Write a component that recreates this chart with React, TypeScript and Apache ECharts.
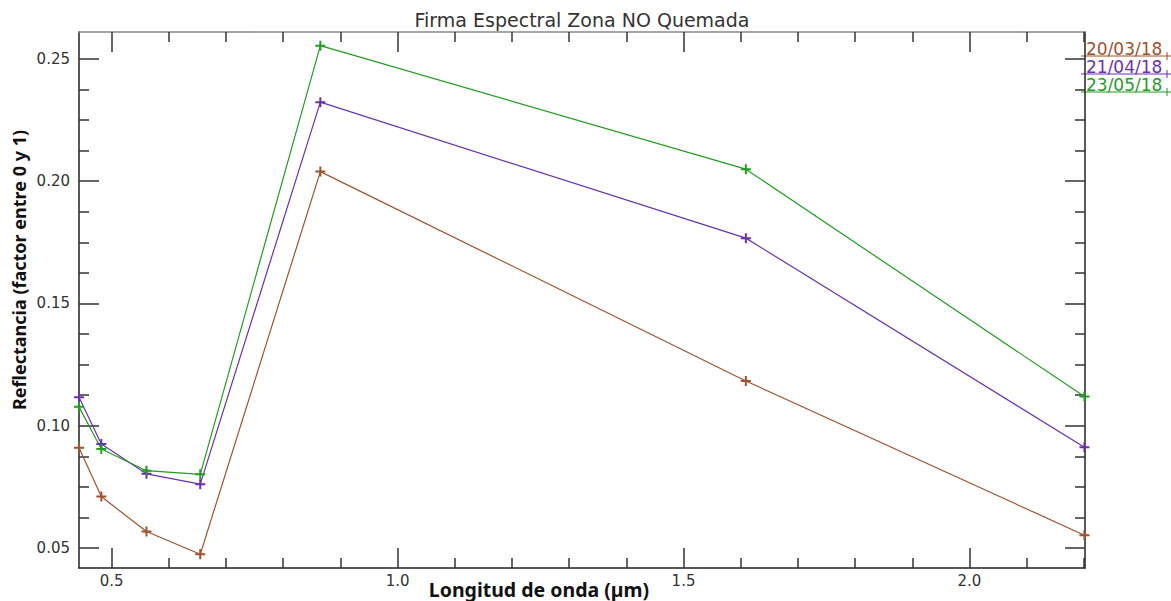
import React, { useEffect, useRef } from "react";
import * as echarts from "echarts";

const wavelengths = [0.443, 0.482, 0.561, 0.655, 0.865, 1.609, 2.201];
const seriesNames = ["20/03/18", "21/04/18", "23/05/18"];
const march = [0.091, 0.071, 0.0567, 0.0474, 0.2039, 0.1183, 0.0552];
const april = [0.1116, 0.0925, 0.0803, 0.0761, 0.2323, 0.1767, 0.0912];
const may = [0.1077, 0.0905, 0.0816, 0.0801, 0.2554, 0.2049, 0.1119];
const seriesValues = [march, april, may];
const colors = ["#a0522d", "#6a30b4", "#1f9e1f"];

const xMajor = [0.5, 1.0, 1.5, 2.0];
const xMinor = [0.6, 0.7, 0.8, 0.9, 1.1, 1.2, 1.3, 1.4, 1.6, 1.7, 1.8, 1.9, 2.1, 2.2];
const yMajor = [0.05, 0.1, 0.15, 0.2, 0.25];
const yMinor = [0.0625, 0.075, 0.0875, 0.1125, 0.125, 0.1375, 0.1625, 0.175, 0.1875, 0.2125, 0.225, 0.2375];

const X_MIN = 0.443;
const X_MAX = 2.202;
const Y_MIN = 0.0418;
const Y_MAX = 0.261;

const TITLE = "Firma Espectral Zona NO Quemada";
const X_NAME = "Longitud de onda (µm)";
const Y_NAME = "Reflectancia (factor entre 0 y 1)";

const PLUS = "path://M0,3.6H3.6V0H5.4V3.6H9V5.4H5.4V9H3.6V5.4H0Z";
const TICK_COLOR = "#333";

function xAxisDef(position: "top" | "bottom", values: number[], len: number, labels: boolean, lineColor: string | null) {
  return {
    type: "value",
    min: X_MIN,
    max: X_MAX,
    position,
    axisLine: lineColor
      ? { show: true, onZero: false, lineStyle: { color: lineColor, width: 1.5 } }
      : { show: false, onZero: false },
    axisTick: { show: true, inside: true, length: len, customValues: values, lineStyle: { color: TICK_COLOR, width: 1.5 } },
    axisLabel: {
      show: labels,
      customValues: values,
      formatter: (v: number) => v.toFixed(1),
      margin: 5,
      color: "#333",
      fontFamily: "DejaVu Sans",
      fontSize: 15,
    },
    splitLine: { show: false },
  };
}

function yAxisDef(position: "left" | "right", values: number[], len: number, labels: boolean, lineColor: string | null) {
  return {
    type: "value",
    min: Y_MIN,
    max: Y_MAX,
    position,
    axisLine: lineColor
      ? { show: true, onZero: false, lineStyle: { color: lineColor, width: 1.5 } }
      : { show: false, onZero: false },
    axisTick: { show: true, inside: true, length: len, customValues: values, lineStyle: { color: TICK_COLOR, width: 1.5 } },
    axisLabel: {
      show: labels,
      customValues: values,
      formatter: (v: number) => v.toFixed(2),
      margin: 9,
      color: "#333",
      fontFamily: "DejaVu Sans",
      fontSize: 15,
    },
    splitLine: { show: false },
  };
}

export default function App() {
  const ref = useRef<HTMLDivElement>(null);

  useEffect(() => {
    if (!ref.current) return;
    const chart = echarts.init(ref.current, null, { renderer: "svg" });

    const legendGraphics: any[] = [];
    const legendLineY = [56, 74, 92];
    seriesNames.forEach((name, i) => {
      const ly = legendLineY[i];
      legendGraphics.push({
        type: "line",
        shape: { x1: 1081, y1: ly, x2: 1171, y2: ly },
        style: { stroke: colors[i], lineWidth: 1 },
      });
      legendGraphics.push({
        type: "line",
        shape: { x1: 1167, y1: ly - 4, x2: 1167, y2: ly + 4 },
        style: { stroke: colors[i], lineWidth: 1 },
      });
      legendGraphics.push({
        type: "text",
        x: 1086,
        y: ly - 7,
        style: {
          text: name,
          fill: colors[i],
          font: "17px 'DejaVu Sans'",
          align: "left",
          verticalAlign: "middle",
        },
      });
    });

    chart.setOption({
      animation: false,
      backgroundColor: "#ffffff",
      grid: { left: 79, right: 86, top: 32, bottom: 33, containLabel: false },
      xAxis: [
        xAxisDef("bottom", xMajor, 20, true, "#222"),
        xAxisDef("bottom", xMinor, 10, false, null),
        xAxisDef("top", xMajor, 20, false, "#888"),
        xAxisDef("top", xMinor, 10, false, null),
      ],
      yAxis: [
        yAxisDef("left", yMajor, 20, true, "#222"),
        yAxisDef("left", yMinor, 10, false, null),
        yAxisDef("right", yMajor, 20, false, "#222"),
        yAxisDef("right", yMinor, 10, false, null),
      ],
      legend: { show: false },
      series: seriesNames.map((name, i) => ({
        name,
        type: "line",
        xAxisIndex: 0,
        yAxisIndex: 0,
        data: wavelengths.map((w, j) => [w, seriesValues[i][j]]),
        symbol: PLUS,
        symbolSize: 10,
        showAllSymbol: true,
        lineStyle: { color: colors[i], width: 1.2 },
        itemStyle: { color: colors[i] },
        emphasis: { disabled: true },
      })),
      graphic: [
        {
          type: "text",
          x: 582,
          y: 20,
          style: {
            text: TITLE,
            fill: "#333",
            font: "19px 'DejaVu Sans'",
            align: "center",
            verticalAlign: "middle",
          },
        },
        {
          type: "text",
          x: 539,
          y: 589,
          style: {
            text: X_NAME,
            fill: "#111",
            font: "bold 19.5px 'Noto Sans'",
            align: "center",
            verticalAlign: "middle",
          },
        },
        {
          type: "text",
          x: 19,
          y: 270,
          rotation: Math.PI / 2,
          style: {
            text: Y_NAME,
            fill: "#111",
            font: "bold 18px 'Noto Sans'",
            align: "center",
            verticalAlign: "middle",
          },
        },
        ...legendGraphics,
      ],
    });

    return () => chart.dispose();
  }, []);

  return <div ref={ref} style={{ width: 1171, height: 601, position: "absolute", left: 0, top: 0 }} />;
}
